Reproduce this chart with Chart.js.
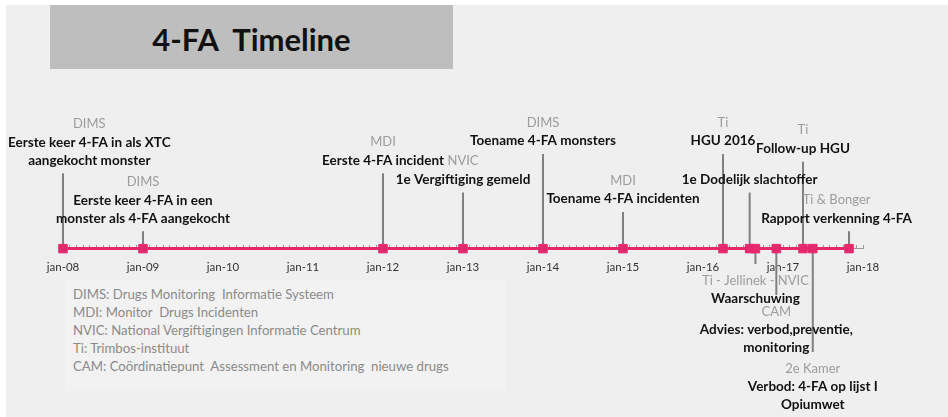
<!DOCTYPE html>
<html>
<head>
<meta charset="utf-8">
<script src="https://cdn.jsdelivr.net/npm/chart.js@4.4.1/dist/chart.umd.min.js"></script>
<style>
  body { margin: 0; background: #fff; width: 948px; height: 417px; overflow: hidden; font-family: Lato, sans-serif; }
  #bg { position: absolute; left: 6px; top: 5px; width: 942px; height: 412px; background: #efefef; }
  #title { position: absolute; left: 50px; top: 5px; width: 403px; height: 64px; background: #bebebe;
           font-weight: bold; font-size: 31px; line-height: 68px; text-align: center; color: #111; }
  #legend { position: absolute; left: 65px; top: 280px; width: 442px; height: 111px; background: #f2f2f2;
            color: #8a8a8a; font-size: 13.2px; line-height: 18px; padding: 5px 8px; box-sizing: border-box; }
  #wrap { position: absolute; left: 0; top: 0; width: 948px; height: 417px; }
</style>
</head>
<body>
<div id="bg"></div>
<div id="title">4-FA&nbsp; Timeline</div>
<div id="legend"></div>
<div id="wrap"><canvas id="timeline"></canvas></div>
<script>
// events on the timeline
const eventDates = ['2008-01-01', '2009-01-01', '2012-01-01', '2013-01-01', '2014-01-01', '2015-01-01',
  '2016-04-01', '2016-08-01', '2016-08-27', '2016-12-01', '2017-04-01', '2017-05-15', '2017-10-28'];
// height of each stem (positive = above the axis, negative = below)
const stemLevels = [78, 18, 78, 58, 98, 38, 98, 58, -16, -48, 90, -107, 18];
const eventSources = ['DIMS', 'DIMS', 'MDI', 'NVIC', 'DIMS', 'MDI', 'Ti', '',
  'Ti - Jellinek - NVIC', 'CAM', 'Ti', '2e Kamer', 'Ti & Bonger'];
const eventTexts = [
  ['Eerste keer 4-FA in als XTC', 'aangekocht monster'],
  ['Eerste keer 4-FA in een', 'monster als 4-FA aangekocht'],
  ['Eerste 4-FA incident'],
  ['1e Vergiftiging gemeld'],
  ['Toename 4-FA monsters'],
  ['Toename 4-FA incidenten'],
  ['HGU 2016'],
  ['1e Dodelijk slachtoffer'],
  ['Waarschuwing'],
  ['Advies: verbod,preventie,', 'monitoring'],
  ['Follow-up HGU'],
  ['Verbod: 4-FA op lijst I', 'Opiumwet'],
  ['Rapport verkenning 4-FA']
];
const tickLabels = ['jan-08', 'jan-09', 'jan-10', 'jan-11', 'jan-12', 'jan-13',
  'jan-14', 'jan-15', 'jan-16', 'jan-17', 'jan-18'];
const legendLines = [
  'DIMS: Drugs Monitoring&nbsp; Informatie Systeem',
  'MDI: Monitor&nbsp; Drugs Incidenten',
  'NVIC: National Vergiftigingen Informatie Centrum',
  'Ti: Trimbos-instituut',
  'CAM: Coördinatiepunt&nbsp; Assessment en Monitoring&nbsp; nieuwe drugs'
];

document.getElementById('legend').innerHTML = legendLines.join('<br>');

// months since jan-08
function monthIndex(s) {
  const p = s.split('-').map(Number);
  return (p[0] - 2008) * 12 + (p[1] - 1) + (p[2] - 1) / 30;
}

const pink = '#e6286c';
const stemColor = '#808080';
const txtFont = 'bold 13.5px Lato';
const srcFont = '13px Lato';

const stemSets = eventDates.map((d, i) => ({
  data: [{x: monthIndex(d), y: 0}, {x: monthIndex(d), y: stemLevels[i]}],
  showLine: true,
  borderColor: stemColor,
  borderWidth: 2,
  pointRadius: 0,
  clip: false,
  order: 2
}));

const eventLabels = {
  id: 'eventLabels',
  afterDatasetsDraw(chart) {
    const {ctx, scales: {x, y}} = chart;
    ctx.save();
    ctx.textAlign = 'center';
    ctx.textBaseline = 'middle';
    eventDates.forEach((d, i) => {
      const px = x.getPixelForValue(monthIndex(d));
      const py = y.getPixelForValue(stemLevels[i]);
      const lines = [];
      if (eventSources[i]) lines.push({t: eventSources[i], src: true});
      eventTexts[i].forEach(t => lines.push({t: t, src: false}));
      let w = 0;
      lines.forEach(l => {
        ctx.font = l.src ? srcFont : txtFont;
        w = Math.max(w, ctx.measureText(l.t).width);
      });
      let cx = Math.max(px, 8 + w / 2);
      cx = Math.min(cx, 912 - w / 2);
      const gap = k => lines[k].src ? 18.5 : 17.5;
      const ys = [];
      if (stemLevels[i] > 0) {
        ys[lines.length - 1] = py - 13;
        for (let k = lines.length - 2; k >= 0; k--) ys[k] = ys[k + 1] - gap(k);
      } else {
        ys[0] = py + 16.5;
        for (let k = 1; k < lines.length; k++) ys[k] = ys[k - 1] + gap(k - 1);
      }
      lines.forEach((l, k) => {
        ctx.font = l.src ? srcFont : txtFont;
        ctx.fillStyle = l.src ? '#9c9c9c' : '#111';
        ctx.fillText(l.t, cx, ys[k]);
      });
    });
    ctx.restore();
  }
};

new Chart(document.getElementById('timeline'), {
  type: 'scatter',
  data: {
    datasets: [{
      data: eventDates.map(d => ({x: monthIndex(d), y: 0})),
      showLine: true,
      borderColor: pink,
      borderWidth: 3,
      pointStyle: 'rect',
      pointRadius: 6,
      pointBorderWidth: 1,
      pointBackgroundColor: pink,
      pointBorderColor: pink,
      clip: false,
      order: 0
    }].concat(stemSets)
  },
  options: {
    responsive: true,
    maintainAspectRatio: false,
    animation: false,
    layout: { padding: { left: 63, right: 85, top: 0, bottom: 0 } },
    plugins: { legend: { display: false }, tooltip: { enabled: false } },
    scales: {
      x: {
        type: 'linear',
        min: 0,
        max: 120,
        position: { y: 0 },
        ticks: {
          stepSize: 1,
          autoSkip: false,
          maxRotation: 0,
          minRotation: 0,
          padding: 16,
          color: '#333',
          font: { family: 'Lato', size: 11.5 },
          callback: v => (v % 12 === 0 ? tickLabels[v / 12] : '')
        },
        grid: { drawOnChartArea: false, drawTicks: true, tickLength: -4, color: '#9a9a9a' },
        border: { display: true, color: '#9a9a9a', width: 1 }
      },
      y: { display: false, min: -167, max: 250 }
    }
  },
  plugins: [eventLabels]
});
</script>
</body>
</html>
